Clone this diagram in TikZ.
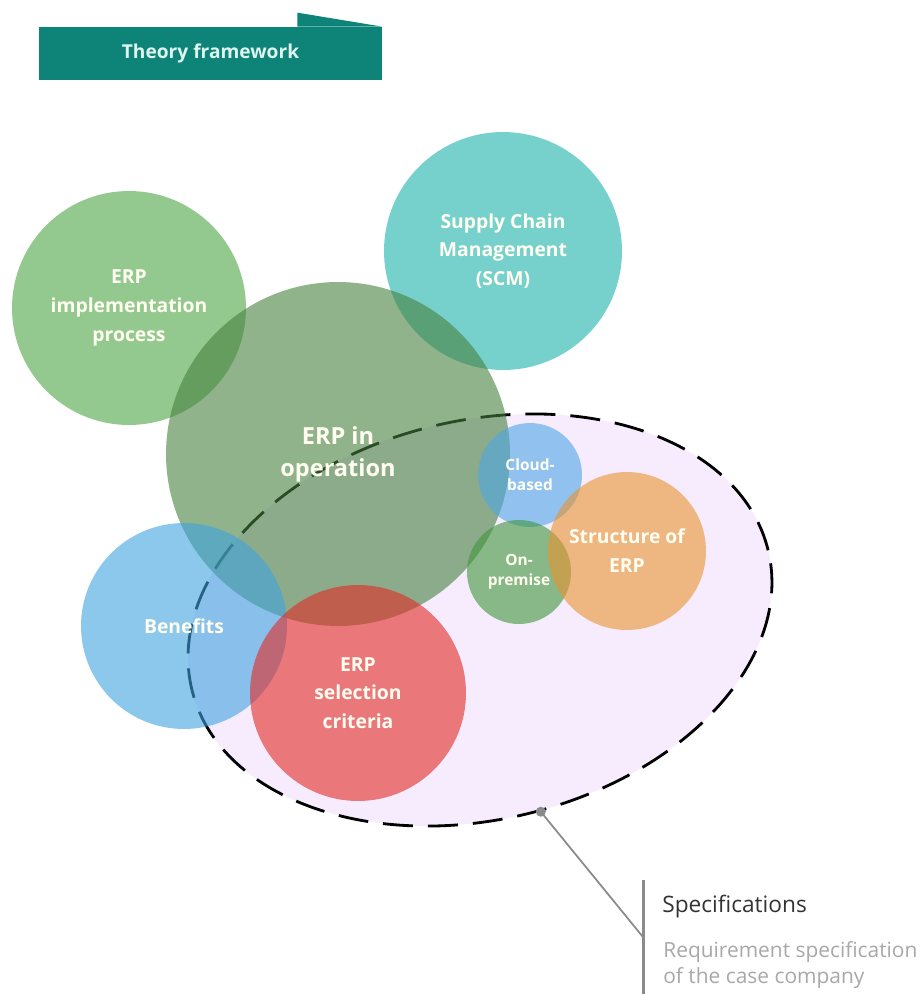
\documentclass[tikz,border=0pt]{standalone}
\usepackage{fontspec}
\setmainfont{Open Sans}
\newcommand\semib{\bfseries}
\usetikzlibrary{positioning, shapes.geometric}
\definecolor{cbanner}{HTML}{0E8478}
\definecolor{cbantext}{HTML}{E0F4EF}
\definecolor{cgreen}{HTML}{4BA544}
\definecolor{cdgreen}{HTML}{46803F}
\definecolor{cteal}{HTML}{1BB2AA}
\definecolor{cblue}{HTML}{3FA3DF}
\definecolor{cred}{HTML}{E32B25}
\definecolor{csky}{HTML}{4FA6E6}
\definecolor{cleaf}{HTML}{3F963A}
\definecolor{corange}{HTML}{E9932F}
\definecolor{clav}{HTML}{F6ECFD}
\definecolor{cgrey}{HTML}{8A8A8A}
\definecolor{cdark}{HTML}{333333}
\definecolor{clight}{HTML}{A8A8A8}
\tikzset{
  bubble/.style={circle, fill=#1, fill opacity=0.6, text opacity=1, text=white!94!yellow, align=center, inner sep=0pt, font=\semib\fontsize{11}{16.4}\selectfont},
  bubble/.default=cgreen,
  small/.style={font=\semib\fontsize{8.8}{11.3}\selectfont},
  zone/.style={ellipse, draw=black, fill=clav, line width=1.6pt, dash pattern=on 0.6cm off 0.3cm, inner sep=0pt},
  banner/.style={fill=cbanner, text=cbantext, inner sep=0pt, font=\semib\fontsize{10.9}{14}\selectfont},
  lead/.style={draw=cgrey, line width=1pt},
}
\begin{document}
\begin{tikzpicture}[x=0.02cm, y=-0.02cm]
  \useasboundingbox (0,0) rectangle (923,994);
  % title tab
  \node[banner, minimum width=6.86cm, minimum height=1.06cm] (title) at (210.5,53.5) {\raisebox{-1pt}{Theory framework}};
  \fill[cbanner] ([xshift=-1.7cm]title.north east) -- ++(0,-14) -- (title.north east) -- cycle;
  % specification area
  \node[zone, minimum width=11.86cm, minimum height=7.98cm, rotate=13.6] (zone) at (480,620) {};
  % topics
  \node[bubble=cgreen, minimum size=4.68cm] (impl) at (129,308) {ERP\\implementation\\process};
  \node[bubble=cteal, minimum size=4.76cm] (scm) at (503,251) {Supply Chain\\Management\\(SCM)};
  \node[bubble=cdgreen, minimum size=6.88cm, font=\semib\fontsize{13.4}{18.1}\selectfont] (oper) at (338,454) {ERP in\\operation};
  \node[bubble=cblue, minimum size=4.12cm] (bene) at (184,626) {Benefits};
  \node[bubble=cred, minimum size=4.32cm] (crit) at (358,693) {ERP\\selection\\criteria};
  \node[bubble=csky, minimum size=2.08cm, small] (cloud) at (530,475) {Cloud-\\based};
  \node[bubble=cleaf, minimum size=2.08cm, small] (prem) at (519,572) {On-\\premise};
  \node[bubble=corange, minimum size=3.16cm] (struct) at (627,551) {Structure of\\ERP};
  % callout
  \coordinate (bartop) at (643,880);
  \coordinate (barbot) at (643,994);
  \coordinate (knee) at (643,937);
  \draw[cgrey, line width=1.7pt] (bartop) -- (barbot);
  \draw[lead] (zone.-86) -- (knee);
  \fill[cgrey] (zone.-86) circle[radius=0.1cm];
  \node[anchor=base west, inner sep=0pt, text=cdark, font=\fontsize{12.9}{15}\selectfont] (sphead) at (662,912) {Specifications};
  \node[anchor=north west, inner sep=0pt, align=left, text=clight, font=\fontsize{11.9}{14.7}\selectfont] (sptext) at (663,941) {Requirement specification\\of the case company};
\end{tikzpicture}
\end{document}
